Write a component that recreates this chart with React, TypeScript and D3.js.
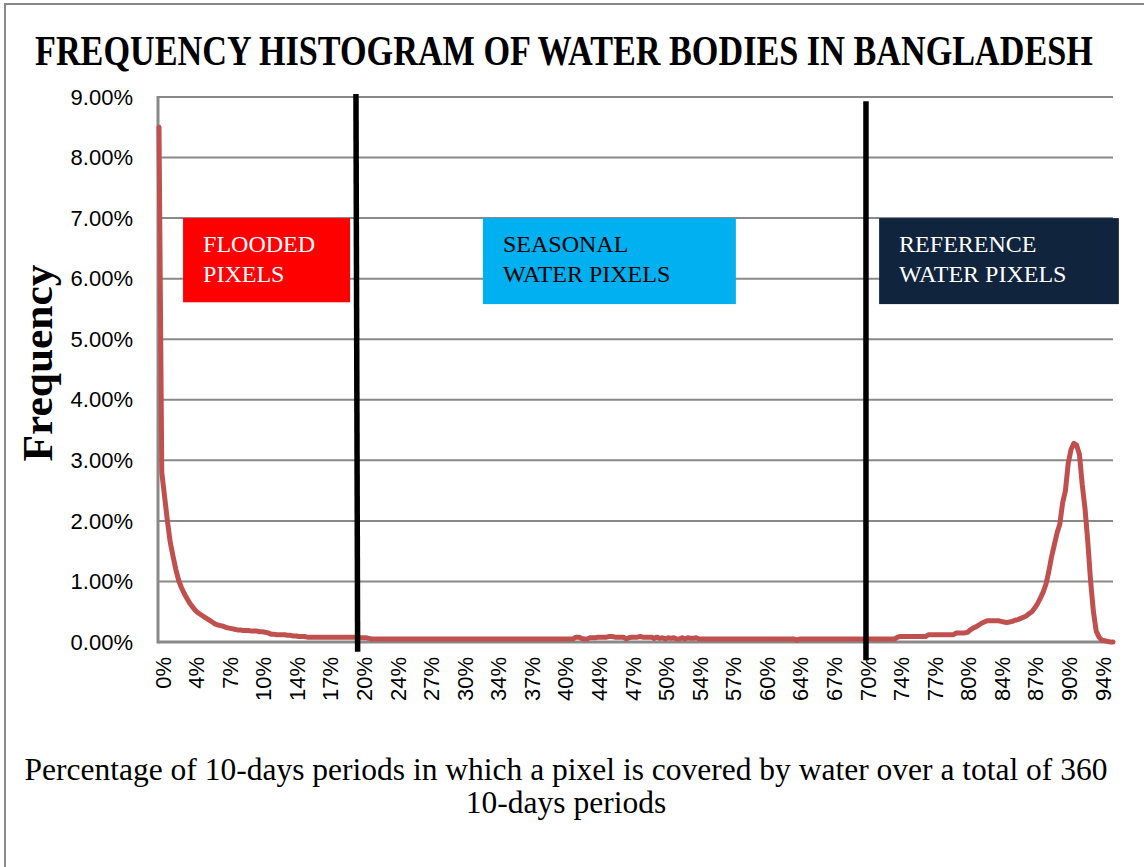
import React, {useEffect, useRef} from "react";
import * as d3 from "d3";

const WIDTH = 1144;
const HEIGHT = 867;

// share of pixels (%) by number of 10-day periods under water, periods 1..342 of 360
const frequency = [
  8.5, 2.8, 2.4, 2.0, 1.65, 1.42, 1.2, 1.02, 0.9, 0.8,
  0.72, 0.64, 0.58, 0.52, 0.48, 0.45, 0.42, 0.39, 0.36, 0.33,
  0.3, 0.28, 0.27, 0.26, 0.24, 0.23, 0.22, 0.21, 0.2, 0.2,
  0.19, 0.19, 0.19, 0.18, 0.18, 0.18, 0.17, 0.17, 0.16, 0.15,
  0.13, 0.13, 0.12, 0.12, 0.12, 0.12, 0.11, 0.11, 0.1, 0.1,
  0.09, 0.09, 0.09, 0.08, 0.08, 0.08, 0.08, 0.08, 0.08, 0.08,
  0.08, 0.08, 0.08, 0.08, 0.08, 0.08, 0.08, 0.08, 0.08, 0.08,
  0.08, 0.08, 0.07, 0.07, 0.07, 0.06, 0.05, 0.05, 0.05, 0.05,
  0.05, 0.05, 0.05, 0.05, 0.05, 0.05, 0.05, 0.05, 0.05, 0.05,
  0.05, 0.05, 0.05, 0.05, 0.05, 0.05, 0.05, 0.05, 0.05, 0.05,
  0.05, 0.05, 0.05, 0.05, 0.05, 0.05, 0.05, 0.05, 0.05, 0.05,
  0.05, 0.05, 0.05, 0.05, 0.05, 0.05, 0.05, 0.05, 0.05, 0.05,
  0.05, 0.05, 0.05, 0.05, 0.05, 0.05, 0.05, 0.05, 0.05, 0.05,
  0.05, 0.05, 0.05, 0.05, 0.05, 0.05, 0.05, 0.05, 0.05, 0.05,
  0.05, 0.05, 0.05, 0.05, 0.05, 0.05, 0.05, 0.05, 0.05, 0.08,
  0.08, 0.06, 0.05, 0.05, 0.07, 0.07, 0.07, 0.08, 0.08, 0.08,
  0.08, 0.09, 0.09, 0.08, 0.08, 0.08, 0.08, 0.05, 0.07, 0.08,
  0.08, 0.08, 0.09, 0.08, 0.08, 0.08, 0.08, 0.06, 0.08, 0.06,
  0.07, 0.05, 0.07, 0.06, 0.07, 0.05, 0.05, 0.07, 0.05, 0.07,
  0.06, 0.06, 0.07, 0.05, 0.05, 0.05, 0.05, 0.05, 0.05, 0.05,
  0.05, 0.05, 0.05, 0.05, 0.05, 0.05, 0.05, 0.05, 0.05, 0.05,
  0.05, 0.05, 0.05, 0.05, 0.05, 0.05, 0.05, 0.05, 0.05, 0.05,
  0.05, 0.05, 0.05, 0.05, 0.05, 0.05, 0.05, 0.05, 0.03, 0.05,
  0.05, 0.05, 0.05, 0.05, 0.05, 0.05, 0.05, 0.05, 0.05, 0.05,
  0.05, 0.05, 0.05, 0.05, 0.05, 0.05, 0.05, 0.05, 0.05, 0.05,
  0.05, 0.05, 0.05, 0.05, 0.05, 0.05, 0.05, 0.05, 0.05, 0.05,
  0.05, 0.05, 0.05, 0.05, 0.08, 0.09, 0.09, 0.09, 0.09, 0.09,
  0.09, 0.09, 0.09, 0.09, 0.09, 0.12, 0.12, 0.12, 0.12, 0.12,
  0.12, 0.12, 0.12, 0.12, 0.12, 0.15, 0.15, 0.15, 0.15, 0.16,
  0.2, 0.23, 0.25, 0.28, 0.31, 0.33, 0.35, 0.35, 0.35, 0.35,
  0.35, 0.34, 0.33, 0.32, 0.33, 0.34, 0.36, 0.37, 0.39, 0.41,
  0.43, 0.47, 0.5, 0.56, 0.63, 0.72, 0.82, 0.95, 1.15, 1.4,
  1.6, 1.8, 1.95, 2.3, 2.5, 2.95, 3.18, 3.28, 3.25, 3.1,
  2.6, 2.2, 1.65, 1.0, 0.5, 0.18, 0.08, 0.03, 0.02, 0.01,
  0.0, 0.0,
];

const TOTAL_PERIODS = 360;
const periods = d3.range(1, frequency.length + 1);
const tickPeriods = periods.filter((p) => (p - 1) % 12 === 0);
const yTicks = [0, 1, 2, 3, 4, 5, 6, 7, 8, 9];

// thresholds drawn as black bars (period at top / bottom, value at top / bottom)
const dividers = [
  {p1: 71.4, p2: 72.0, top: 9.05, bottom: -0.16},
  {p1: 253.7, p2: 253.7, top: 8.93, bottom: -0.3},
];

const classes = [
  {lines: ["FLOODED", "PIXELS"], from: 9.6, to: 69.3, top: 7.0, bottom: 5.61, fill: "#FF0000", color: "#FFFFFF"},
  {lines: ["SEASONAL", "WATER PIXELS"], from: 116.8, to: 207.2, top: 7.0, bottom: 5.58, fill: "#00B0F0", color: "#000000"},
  {lines: ["REFERENCE", "WATER PIXELS"], from: 258.4, to: 344.1, top: 7.0, bottom: 5.58, fill: "#10243E", color: "#FFFFFF"},
];

const TITLE = "FREQUENCY HISTOGRAM OF WATER BODIES IN BANGLADESH";
const Y_TITLE = "Frequency";
const X_TITLE = [
  "Percentage of 10-days periods in which a pixel is covered by water over a total of 360",
  "10-days periods",
];

const SERIF = "'Liberation Serif', 'DejaVu Serif', serif";
const SANS = "'Liberation Sans', Arial, sans-serif";
const GRID = "#898989";

const PLOT = {left: 158, right: 1113, top: 97, bottom: 642};

// squeeze a text horizontally so that it spans `width` px (the source font is condensed)
function squeeze(text: any, tx: number, ty: number, width: number, rotate = 0) {
  const natural = text.node().getComputedTextLength();
  const sx = natural > 0 ? width / natural : 1;
  text.attr("transform", `translate(${tx},${ty}) rotate(${rotate}) scale(${sx},1)`);
  return sx;
}

export default function App() {
  const ref = useRef<SVGSVGElement>(null);

  useEffect(() => {
    if (!ref.current) return;
    const svg = d3.select(ref.current);
    svg.selectAll("*").remove();

    const x = d3.scaleLinear().domain([1, frequency.length]).range([PLOT.left + 1, PLOT.right]);
    const y = d3.scaleLinear().domain([0, 9]).range([PLOT.bottom, PLOT.top]);

    svg.append("rect").attr("width", WIDTH).attr("height", HEIGHT).attr("fill", "#fff");
    // outer chart border
    svg.append("rect")
      .attr("x", 5).attr("y", 4).attr("width", WIDTH + 20).attr("height", HEIGHT + 20)
      .attr("fill", "none").attr("stroke", GRID).attr("stroke-width", 2);

    // title
    const title = svg.append("text")
      .attr("font-family", SERIF).attr("font-weight", "bold").attr("font-size", 42)
      .text(TITLE);
    squeeze(title, 35, 65, 1058);

    // gridlines
    svg.append("g").selectAll("line").data(yTicks.filter((t) => t > 0)).join("line")
      .attr("x1", PLOT.left).attr("x2", PLOT.right)
      .attr("y1", (d) => y(d)).attr("y2", (d) => y(d))
      .attr("stroke", GRID).attr("stroke-width", 2);

    // axes lines
    svg.append("line")
      .attr("x1", PLOT.left).attr("x2", PLOT.left).attr("y1", PLOT.top - 1).attr("y2", PLOT.bottom + 1.5)
      .attr("stroke", GRID).attr("stroke-width", 3);
    svg.append("line")
      .attr("x1", PLOT.left).attr("x2", PLOT.right).attr("y1", PLOT.bottom).attr("y2", PLOT.bottom)
      .attr("stroke", GRID).attr("stroke-width", 3);

    // y tick labels
    svg.append("g").selectAll("text").data(yTicks).join("text")
      .attr("x", 133).attr("y", (d) => y(d)).attr("dy", "0.35em")
      .attr("text-anchor", "end")
      .attr("font-family", SANS).attr("font-size", 22)
      .text((d) => d3.format(".2f")(d) + "%");

    // x tick labels
    svg.append("g").selectAll("text").data(tickPeriods).join("text")
      .attr("transform", (d) => `translate(${x(d) + 4},657) rotate(-90)`)
      .attr("text-anchor", "end").attr("dominant-baseline", "central")
      .attr("font-family", SANS).attr("font-size", 22)
      .text((d) => Math.round((d / TOTAL_PERIODS) * 100) + "%");

    // class boxes
    const box = svg.append("g").selectAll("g").data(classes).join("g");
    box.append("rect")
      .attr("x", (d) => x(d.from)).attr("y", (d) => y(d.top))
      .attr("width", (d) => x(d.to) - x(d.from)).attr("height", (d) => y(d.bottom) - y(d.top))
      .attr("fill", (d) => d.fill);
    box.each(function (d) {
      d3.select(this).selectAll("text").data(d.lines).join("text")
        .attr("x", x(d.from) + 20).attr("y", (_, i) => y(d.top) + 34 + i * 30)
        .attr("font-family", SERIF).attr("font-size", 24)
        .attr("fill", d.color)
        .text((t) => t);
    });

    // frequency curve
    const line = d3.line<number>().x((_, i) => x(periods[i])).y((d) => y(d));
    svg.append("path")
      .datum(frequency)
      .attr("d", line)
      .attr("fill", "none").attr("stroke", "#C0504D").attr("stroke-width", 5)
      .attr("stroke-linejoin", "round").attr("stroke-linecap", "round");

    // threshold bars
    svg.append("g").selectAll("line").data(dividers).join("line")
      .attr("x1", (d) => x(d.p1)).attr("x2", (d) => x(d.p2))
      .attr("y1", (d) => y(d.top)).attr("y2", (d) => y(d.bottom))
      .attr("stroke", "#000").attr("stroke-width", 5.5);

    // y title
    const yTitle = svg.append("text")
      .attr("text-anchor", "middle")
      .attr("font-family", SERIF).attr("font-weight", "bold").attr("font-size", 42)
      .text(Y_TITLE);
    squeeze(yTitle, 52, 363, 197, -90);

    // x title, second line uses the same squeeze as the first
    const xt1 = svg.append("text")
      .attr("text-anchor", "middle")
      .attr("font-family", SERIF).attr("font-size", 31)
      .text(X_TITLE[0]);
    const sx = squeeze(xt1, 566, 780, 1083);
    svg.append("text")
      .attr("text-anchor", "middle")
      .attr("font-family", SERIF).attr("font-size", 31)
      .attr("transform", `translate(566,813) scale(${sx},1)`)
      .text(X_TITLE[1]);
  }, []);

  return (
    <svg
      ref={ref}
      width={WIDTH}
      height={HEIGHT}
      style={{position: "absolute", left: 0, top: 0, display: "block"}}
    />
  );
}
